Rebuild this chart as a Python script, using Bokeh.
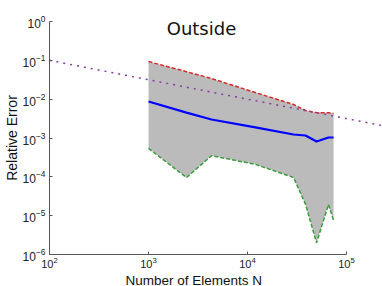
from bokeh.plotting import figure
from bokeh.models import Range1d, Label, ColumnDataSource, Title
from bokeh.embed import file_html
from bokeh.resources import INLINE

# Data
N = [1000, 2420, 4330, 12000, 29200, 38600, 49800, 65800, 74000]
err_max = [0.093, 0.051, 0.034, 0.0148, 0.0073, 0.0051, 0.0045, 0.0045, 0.0043]
err_mean = [0.0087, 0.0045, 0.0030, 0.00187, 0.00123, 0.00116, 0.00081, 0.00103, 0.00103]
err_min = [5.4e-4, 9.6e-5, 3.5e-4, 2.1e-4, 9.6e-5, 1.95e-5, 2.0e-6, 1.95e-5, 7.5e-6]
ref_N = [100, 1000000]
ref_err = [0.1, 0.001]

title_text = "Outside"
xlabel = "Number of Elements N"
ylabel = "Relative Error"

src = ColumnDataSource(dict(N=N, hi=err_max, mid=err_mean, lo=err_min))

p = figure(frame_width=333, frame_height=233, x_axis_type="log", y_axis_type="log",
           x_range=Range1d(100, 10 ** (2 + 333 / 99)), y_range=Range1d(1e-6, 1),
           output_backend="svg", toolbar_location=None,
           min_border_left=30, min_border_right=0, min_border_top=21, min_border_bottom=34)
p.outline_line_color = None
p.grid.grid_line_color = None
p.background_fill_color = "white"

p.varea(x="N", y1="lo", y2="hi", source=src, fill_color="#bbbbbb")
p.line(x="N", y="hi", source=src, line_color="#d42a2a", line_width=1.5, line_dash="4 2")
p.line(x="N", y="lo", source=src, line_color="#3c9c3c", line_width=1.5, line_dash="4 2")
p.line(x="N", y="mid", source=src, line_color="#0000ff", line_width=2.2)
p.line(x=ref_N, y=ref_err, line_color="#8a3aa0", line_width=1.5, line_dash="2 5")

for ax in (p.xaxis[0], p.yaxis[0]):
    ax.axis_line_color = "#555555"
    ax.major_tick_line_color = "#555555"
    ax.major_tick_in = 3
    ax.major_tick_out = 0
    ax.minor_tick_line_color = None
    ax.major_label_text_font = "Liberation Sans"
    ax.major_label_text_font_size = "12px"
    ax.major_label_text_color = "#222222"
    ax.major_label_standoff = 0
    ax.axis_label_text_font = "Liberation Sans"
    ax.axis_label_text_font_size = "14px"
    ax.axis_label_text_font_style = "normal"
    ax.axis_label_text_color = "#111111"
    ax.axis_label_standoff = 0

p.xaxis.major_label_text_font_size = "11px"
p.xaxis.major_label_standoff = -2
p.yaxis.axis_label = ylabel
p.xaxis.bounds = (100, 1e5)

p.add_layout(Title(text=xlabel, align="left", offset=76, standoff=0,
                   text_font="Liberation Sans", text_font_size="13.5px",
                   text_font_style="normal", text_color="#111111"), "below")
p.add_layout(Label(x=3430, y=0.66, text=title_text, text_align="center",
                   text_baseline="alphabetic", text_font="DejaVu Sans",
                   text_font_size="18px", text_color="#111111"))

open("out.html", "w").write(file_html(p, INLINE))
